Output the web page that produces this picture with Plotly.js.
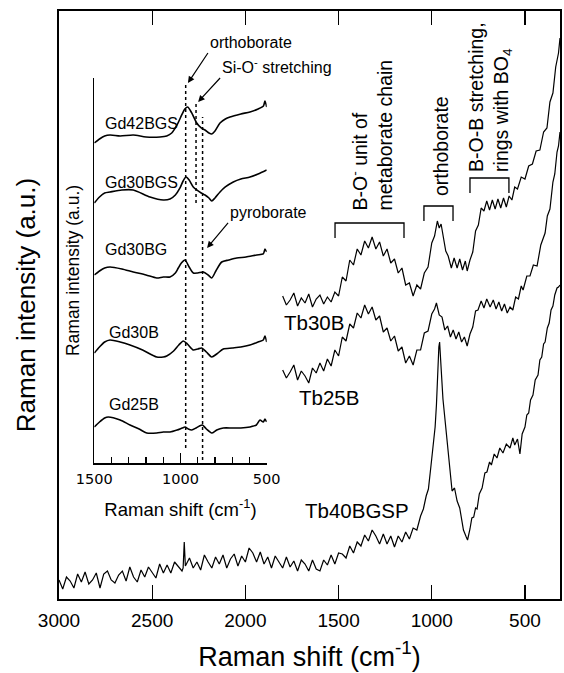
<!DOCTYPE html>
<html>
<head>
<meta charset="utf-8">
<script src="https://cdn.plot.ly/plotly-3.0.1.min.js"></script>
<style>html,body{margin:0;padding:0;background:#fff;}#chart{width:564px;height:673px;}</style>
</head>
<body>
<div id="chart"></div>
<script>
// ---------- Main spectra (Raman shift in cm-1, intensity in a.u.) ----------
const tb40X = [3000,2980,2960,2940,2920,2900,2880,2860,2840,2820,2800,2780,2760,2740,2720,2700,2680,2660,2640,2620,2600,2580,2560,2540,2520,2500,2480,2460,2440,2420,2400,2380,2360,2340,2334,2328,2322,2300,2280,2260,2240,2220,2200,2180,2160,2140,2120,2100,2080,2060,2040,2020,2000,1980,1960,1940,1920,1900,1880,1860,1840,1820,1800,1780,1760,1740,1720,1700,1680,1660,1640,1620,1600,1580,1560,1540,1520,1500,1480,1460,1440,1420,1400,1380,1360,1340,1320,1300,1280,1260,1240,1220,1200,1180,1160,1140,1120,1100,1080,1060,1045,1030,1018,1005,992,982,975,968,962,958,953,947,940,930,920,905,891,878,864,850,840,830,815,808,795,785,775,765,757,745,730,715,704,690,680,665,650,635,618,600,580,565,555,540,527,515,500,490,480,470,457,445,430,420,410,400,392,380,370,360,350,340,328,320,312];
const tb40Y = [19,10,22,18,11,25,17,27,15,19,26,11,25,28,19,16,24,28,18,32,22,17,29,22,32,27,21,35,26,34,26,37,33,28,31,57,33,41,31,37,29,44,37,31,42,35,44,31,40,45,33,43,37,51,46,37,47,35,42,31,43,37,31,42,32,38,28,39,35,28,39,30,28,39,34,44,35,46,45,41,53,46,57,53,64,58,69,63,55,65,55,63,52,63,57,67,60,71,69,83,90,103,110,132,152,172,194,229,252,257,245,222,200,180,159,131,108,111,98,91,80,69,62,59,70,81,82,91,90,105,111,126,127,137,134,145,141,151,146,155,151,161,154,160,145,165,172,184,186,199,204,219,224,239,242,255,257,271,276,289,293,304,311,312,314];

const tb30X = [1800,1780,1760,1740,1720,1700,1680,1660,1640,1620,1600,1580,1560,1540,1520,1500,1480,1460,1440,1420,1400,1380,1360,1340,1320,1300,1280,1260,1240,1220,1200,1180,1160,1140,1120,1100,1080,1060,1040,1020,1000,985,970,960,950,940,925,912,895,880,864,850,835,820,810,795,780,765,750,735,720,705,690,675,660,645,630,615,600,585,570,555,540,520,500,480,460,440,420,400,382,366,350,335,320,312];
const tb30Y = [303,294,299,306,293,301,296,305,292,300,304,295,302,297,307,303,322,318,339,334,350,344,358,351,362,350,357,343,350,336,340,326,331,314,316,303,314,310,326,332,356,363,378,371,375,363,348,343,331,341,331,340,329,338,328,339,347,368,374,391,388,398,389,399,390,400,391,401,392,403,399,412,410,422,420,433,435,448,449,467,471,497,506,532,546,561];

const tb25X = [1800,1780,1760,1740,1720,1700,1680,1660,1640,1620,1600,1580,1560,1540,1520,1500,1480,1460,1440,1420,1400,1380,1360,1340,1320,1300,1280,1260,1240,1220,1200,1180,1160,1140,1120,1100,1080,1060,1040,1020,1000,985,975,960,945,930,915,900,885,870,855,840,825,810,795,780,765,752,735,720,705,687,670,655,640,625,610,595,580,565,550,535,520,510,490,473,455,435,415,392,380,366,350,340,328,320,312];
const tb25Y = [229,221,227,234,219,228,223,216,231,226,236,228,240,233,249,243,262,258,275,271,286,281,294,285,292,279,283,267,271,258,263,248,252,236,243,234,249,249,266,268,285,290,296,284,282,269,273,262,269,260,267,257,262,253,265,272,288,289,298,291,300,292,299,290,297,288,295,286,292,289,302,300,313,309,323,323,334,333,354,366,383,390,417,425,447,453,467];

const mainSeriesNames = ['Tb40BGSP','Tb30B','Tb25B'];
const mainTickVals = [3000,2500,2000,1500,1000,500];
const mainTickText = ['3000','2500','2000','1500','1000','500'];

// ---------- Inset spectra ----------
const gd42X = [1500,1470,1440,1409,1350,1274,1200,1119,1080,1051,1020,993,975,958,935,906,880,858,835,819,800,771,740,713,650,597,550,519,510,500];
const gd42Y = [320,324,327,328,327,328,326,326,327,330,338,348,354,356,350,340,335,333,330,329,332,340,344,346,349,351,354,357,362,356];
const gd30bgsX = [1500,1470,1440,1409,1340,1274,1177,1100,1061,1030,1003,985,968,950,926,906,880,858,835,819,800,771,740,694,650,597,550,500];
const gd30bgsY = [260,266,270,271,273,273,266,263,264,268,275,282,286,283,276,273,270,268,265,262,265,271,276,281,284,286,289,293];
const gd30bgX = [1500,1470,1440,1409,1340,1274,1200,1138,1100,1061,1030,1013,995,974,950,926,900,868,840,819,795,761,720,674,620,558,520,510,500];
const gd30bgY = [188,192,195,196,194,191,188,185,186,186,190,195,200,203,196,190,190,191,188,185,192,201,203,205,206,208,209,214,211];
const gd30bX = [1500,1470,1440,1409,1350,1293,1220,1138,1100,1080,1040,1010,984,960,926,900,877,850,819,790,752,700,650,597,550,520,510,500];
const gd30bY = [110,116,121,123,121,118,113,106,106,107,112,118,122,119,113,114,115,111,106,109,114,115,116,118,121,123,127,121];
const gd25bX = [1500,1470,1440,1419,1350,1293,1240,1196,1138,1100,1061,1020,990,974,955,935,910,890,873,850,819,790,752,700,650,597,560,539,520,510,500];
const gd25bY = [36,41,45,46,43,38,34,30,30,31,31,33,35,36,34,33,35,37,38,34,30,33,35,35,35,36,38,43,41,44,41];
const insetSeriesNames = ['Gd42BGS','Gd30BGS','Gd30BG','Gd30B','Gd25B'];
const insetTickVals = [1500,1000,500];
const insetTickText = ['1500','1000','500'];
const insetBandPos = [970, 910, 872];           // orthoborate, Si-O-, pyroborate
const insetBandNames = ['orthoborate','Si-O<sup>-</sup> stretching','pyroborate'];

// assignment brackets on main plot (cm-1 ranges)
const bracketFrom = [1519, 1042, 795];
const bracketTo   = [1149, 886, 586];
const bracketNames = ['B-O<sup>-</sup> unit of<br>metaborate chain','orthoborate','B-O-B stretching,<br>rings with BO<sub>4</sub>'];

const FONT = 'Liberation Sans, Arial, Helvetica, sans-serif';
const BLACK = '#000';

const mainLine = {color: BLACK, width: 1.2};
const insetLine = {color: BLACK, width: 1.6};

const traces = [
  {x: tb40X, y: tb40Y, name: mainSeriesNames[0], type: 'scatter', mode: 'lines', line: mainLine, xaxis: 'x', yaxis: 'y'},
  {x: tb30X, y: tb30Y, name: mainSeriesNames[1], type: 'scatter', mode: 'lines', line: mainLine, xaxis: 'x', yaxis: 'y'},
  {x: tb25X, y: tb25Y, name: mainSeriesNames[2], type: 'scatter', mode: 'lines', line: mainLine, xaxis: 'x', yaxis: 'y'},
];
const insetData = [[gd42X, gd42Y],[gd30bgsX, gd30bgsY],[gd30bgX, gd30bgY],[gd30bX, gd30bY],[gd25bX, gd25bY]];
insetData.forEach((d, i) => {
  traces.push({x: d[0], y: d[1], name: insetSeriesNames[i], type: 'scatter', mode: 'lines',
    line: Object.assign({shape: 'spline', smoothing: 0.7}, insetLine), xaxis: 'x2', yaxis: 'y2'});
});

// ---------- Shapes ----------
const shapes = [];
const bracketLevel = [376, 393, 421];
const bracketDrop = 15;
bracketFrom.forEach((a, i) => {
  const b = bracketTo[i], yv = bracketLevel[i];
  shapes.push({type: 'path', xref: 'x', yref: 'y',
    path: `M ${a},${yv - bracketDrop} L ${a},${yv} L ${b},${yv} L ${b},${yv - bracketDrop}`,
    line: {color: BLACK, width: 1.3}});
});
const bandTop = [378, 361, 346];
const bandBottom = [15, 260, 3];
insetBandPos.forEach((p, i) => {
  shapes.push({type: 'line', xref: 'x2', yref: 'y2', x0: p, x1: p, y0: bandBottom[i], y1: bandTop[i],
    line: {color: BLACK, width: 1.5, dash: '3px,3px'}});
});

// ---------- Annotations ----------
const ann = [];
const mainLabelPos = [[1401, 89], [1632, 277], [1551, 202]];
mainSeriesNames.forEach((n, i) => {
  ann.push({x: mainLabelPos[i][0], y: mainLabelPos[i][1], xref: 'x', yref: 'y', text: n, showarrow: false,
    xanchor: 'center', yanchor: 'middle', font: {family: FONT, size: 20.5, color: BLACK}});
});
const bracketTextX = [1326, 950, 688];
const bracketTextY = [386, 401, 425];
bracketNames.forEach((t, i) => {
  ann.push({x: bracketTextX[i], y: bracketTextY[i], xref: 'x', yref: 'y', text: t, showarrow: false,
    textangle: -90, xanchor: 'center', yanchor: 'bottom', align: 'left',
    font: {family: FONT, size: 19.5, color: BLACK}});
});
const insetLabelPos = [[1450, 339], [1450, 280], [1450, 213], [1426, 130], [1426, 58]];
insetSeriesNames.forEach((n, i) => {
  ann.push({x: insetLabelPos[i][0], y: insetLabelPos[i][1], xref: 'x2', yref: 'y2', text: n, showarrow: false,
    xanchor: 'left', yanchor: 'middle', font: {family: FONT, size: 16, color: BLACK}});
});
// band labels with arrows: arrow head in inset data coords, text offset (px) from the head
const bandArrowHead = [[957, 380], [898, 361], [846, 215]];
const bandTextOffset = [[20, -30], [22, -24], [21, -25]];
insetBandNames.forEach((t, i) => {
  ann.push({x: bandArrowHead[i][0], y: bandArrowHead[i][1], xref: 'x2', yref: 'y2',
    ax: bandTextOffset[i][0], ay: bandTextOffset[i][1], axref: 'pixel', ayref: 'pixel',
    text: t, showarrow: true, xanchor: 'left', yanchor: 'bottom',
    arrowhead: 2, arrowsize: 1.1, arrowwidth: 1.2, arrowcolor: BLACK, standoff: 0, startstandoff: 0,
    font: {family: FONT, size: 16, color: BLACK}});
});

const layout = {
  width: 564, height: 673,
  margin: {l: 59, r: 4, t: 11, b: 74, pad: 0},
  paper_bgcolor: '#fff', plot_bgcolor: '#fff',
  showlegend: false,
  font: {family: FONT, color: BLACK},
  xaxis: {
    domain: [0, 1], range: [3000, 312], tickmode: 'array', tickvals: mainTickVals, ticktext: mainTickText,
    ticks: 'inside', ticklen: 14, tickwidth: 1.3, tickcolor: BLACK, ticklabelstandoff: 4,
    showline: true, linewidth: 1.6, linecolor: BLACK, mirror: 'allticks',
    showgrid: false, zeroline: false, automargin: false,
    tickfont: {family: FONT, size: 19, color: BLACK},
    title: {text: 'Raman shift (cm<sup>-1</sup>)', font: {family: FONT, size: 27, color: BLACK}, standoff: 16}
  },
  yaxis: {
    domain: [0, 1], range: [0, 588], showticklabels: false, ticks: '',
    showline: true, linewidth: 1.6, linecolor: BLACK, mirror: true,
    showgrid: false, zeroline: false, automargin: false,
    title: {text: 'Raman intensity (a.u.)', font: {family: FONT, size: 26, color: BLACK}, standoff: 14}
  },
  xaxis2: {
    domain: [0.0705, 0.4146], anchor: 'y2', range: [1500, 500], tickmode: 'array', tickvals: insetTickVals, ticktext: insetTickText,
    ticks: 'inside', ticklen: 10, tickwidth: 1.3, tickcolor: BLACK, ticklabelstandoff: 2,
    minor: {dtick: 100, tick0: 0, ticks: 'inside', ticklen: 6, tickwidth: 1.2, tickcolor: BLACK, showgrid: false},
    showline: true, linewidth: 1.6, linecolor: BLACK,
    showgrid: false, zeroline: false, automargin: false,
    tickfont: {family: 'DejaVu Sans, sans-serif', size: 14.5, color: BLACK},
    title: {text: 'Raman shift (cm<sup>-1</sup>)', font: {family: FONT, size: 18.5, color: BLACK}, standoff: 17}
  },
  yaxis2: {
    domain: [0.2313, 0.8861], anchor: 'x2', range: [0, 385], showticklabels: false, ticks: '',
    showline: true, linewidth: 1.6, linecolor: BLACK,
    showgrid: false, zeroline: false, automargin: false,
    title: {text: 'Raman intensity (a.u.)', font: {family: FONT, size: 17.5, color: BLACK}, standoff: 8}
  },
  shapes: shapes,
  annotations: ann
};

Plotly.newPlot('chart', traces, layout, {displayModeBar: false, staticPlot: true});
</script>
</body>
</html>
